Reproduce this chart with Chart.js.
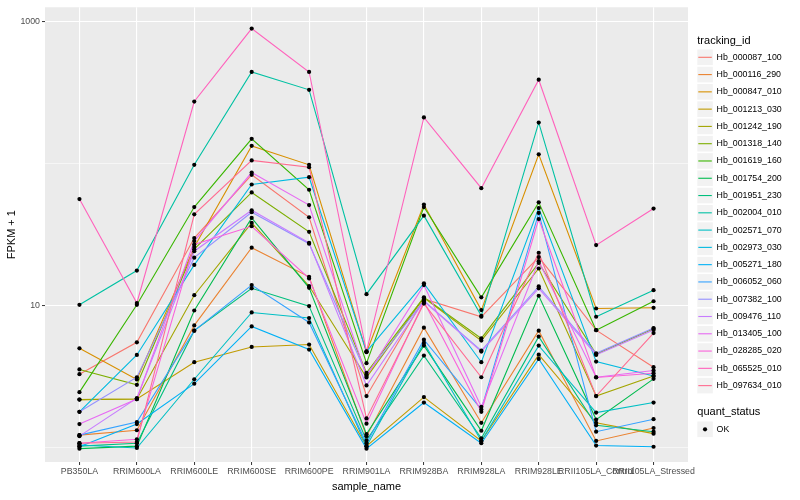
<!DOCTYPE html>
<html><head><meta charset="utf-8">
<script src="https://cdn.jsdelivr.net/npm/chart.js@4.4.0/dist/chart.umd.min.js"></script>
<style>html,body{margin:0;padding:0;background:#fff;}canvas{display:block;}</style>
</head><body>
<canvas id="c" width="800" height="500" style="width:800px;height:500px"></canvas>
<script>
const categories = ['PB350LA','RRIM600LA','RRIM600LE','RRIM600SE','RRIM600PE','RRIM901LA','RRIM928BA','RRIM928LA','RRIM928LE','RRII105LA_Control','RRII105LA_Stressed'];
const trackingIds = ['Hb_000087_100','Hb_000116_290','Hb_000847_010','Hb_001213_030','Hb_001242_190','Hb_001318_140','Hb_001619_160','Hb_001754_200','Hb_001951_230','Hb_002004_010','Hb_002571_070','Hb_002973_030','Hb_005271_180','Hb_006052_060','Hb_007382_100','Hb_009476_110','Hb_013405_100','Hb_028285_020','Hb_065525_010','Hb_097634_010'];
const seriesColors = ['#F8766D','#EA8331','#D89000','#C09B00','#A3A500','#7CAE00','#39B600','#00BB4E','#00BF7D','#00C1A3','#00BFC4','#00BAE0','#00B0F6','#35A2FF','#9590FF','#C77CFF','#E76BF3','#FA62DB','#FF62BC','#FF6C91'];

const hb_000087_100 = [3.28, 5.50, 29.8, 83.2, 41.8, 2.30, 11.1, 8.32, 21.9, 6.69, 3.67];
const hb_000116_290 = [1.22, 1.32, 7.23, 25.5, 15.9, 1.20, 6.97, 1.49, 6.64, 1.11, 1.37];
const hb_000847_010 = [4.99, 3.01, 25.8, 133, 97.8, 4.68, 51.3, 9.27, 116, 9.51, 9.62];
const hb_001213_030 = [2.17, 2.19, 3.98, 5.10, 5.30, 1.02, 2.26, 1.11, 4.50, 1.49, 1.25];
const hb_001242_190 = [2.17, 2.19, 11.8, 38.1, 13.7, 3.11, 11.3, 5.65, 18.2, 2.30, 3.18];
const hb_001318_140 = [3.54, 2.76, 24.9, 62.5, 33.0, 3.35, 11.4, 5.86, 19.9, 4.54, 6.86];
const hb_001619_160 = [2.45, 10.1, 49.3, 149, 65.3, 3.92, 49.3, 11.4, 53.2, 6.69, 10.7];
const hb_001754_200 = [0.98, 1.02, 9.21, 41.3, 13.3, 1.24, 5.21, 1.31, 11.7, 1.57, 3.04];
const hb_001951_230 = [1.02, 1.07, 6.64, 13.2, 9.89, 1.12, 4.43, 1.16, 6.03, 1.43, 1.29];
const hb_002004_010 = [10.1, 17.6, 97.8, 441, 330, 12.0, 42.9, 8.45, 194, 8.32, 12.8];
const hb_002571_070 = [1.04, 0.99, 3.02, 8.92, 8.15, 1.02, 5.44, 1.11, 5.21, 1.76, 2.07];
const hb_002973_030 = [1.78, 4.48, 19.3, 71.1, 80.0, 4.73, 14.3, 3.98, 48.5, 4.02, 3.18];
const hb_005271_180 = [1.01, 1.46, 2.81, 7.11, 4.89, 0.98, 2.07, 1.07, 4.20, 1.03, 1.01];
const hb_006052_060 = [1.22, 1.51, 6.64, 13.9, 7.59, 1.07, 5.74, 1.85, 44.8, 1.29, 1.58];
const hb_007382_100 = [1.78, 3.12, 21.7, 45.3, 27.2, 3.26, 10.8, 4.81, 13.6, 4.60, 6.93];
const hb_009476_110 = [1.20, 2.22, 24.1, 46.8, 27.6, 2.73, 10.7, 4.73, 13.2, 4.48, 6.71];
const hb_013405_100 = [1.46, 2.19, 28.4, 86.3, 50.9, 3.18, 13.9, 1.93, 20.5, 3.12, 3.48];
const hb_028285_020 = [1.07, 1.14, 26.9, 36.1, 15.5, 1.47, 10.6, 1.78, 40.6, 3.11, 3.33];
const hb_065525_010 = [56.1, 10.4, 273, 891, 441, 4.75, 211, 67.0, 389, 26.6, 48.1];
const hb_097634_010 = [1.07, 1.09, 43.8, 105, 94.0, 1.60, 10.3, 3.12, 23.5, 2.30, 6.39];

const seriesValues = [hb_000087_100, hb_000116_290, hb_000847_010, hb_001213_030, hb_001242_190, hb_001318_140, hb_001619_160, hb_001754_200, hb_001951_230, hb_002004_010, hb_002571_070, hb_002973_030, hb_005271_180, hb_006052_060, hb_007382_100, hb_009476_110, hb_013405_100, hb_028285_020, hb_065525_010, hb_097634_010];

const yTickValues = [1, 10, 100, 1000];
const yMajorTicks = [10, 1000];
const yTickLabels = {10: '10', 1000: '1000'};
const legendTitle = 'tracking_id';
const shapeTitle = 'quant_status';
const shapeLabel = 'OK';

const FONT = '"Liberation Sans", Arial, Helvetica, sans-serif';
Chart.defaults.font.family = FONT;

const toPoints = vals => vals.map((v, i) => ({x: i, y: v}));

const datasets = [];
seriesValues.forEach((vals, i) => {
  datasets.push({
    label: trackingIds[i], data: toPoints(vals),
    borderColor: seriesColors[i], borderWidth: 1.1, pointRadius: 0,
    fill: false, tension: 0, order: 1 + (seriesValues.length - i)
  });
});
seriesValues.forEach((vals, i) => {
  datasets.push({
    label: trackingIds[i] + '_pts', data: toPoints(vals), showLine: false,
    pointRadius: 2.1, pointBackgroundColor: '#000', pointBorderWidth: 0,
    pointHoverRadius: 2.1, order: 0
  });
});

const bgPlugin = {
  id: 'panelBg',
  beforeDraw(chart) {
    const {ctx, chartArea: a} = chart;
    ctx.save();
    ctx.fillStyle = '#fff';
    ctx.fillRect(0, 0, chart.width, chart.height);
    ctx.fillStyle = '#EBEBEB';
    ctx.fillRect(a.left, a.top, a.right - a.left, a.bottom - a.top);
    ctx.restore();
  }
};

const legendPlugin = {
  id: 'ggLegend',
  afterDraw(chart) {
    const ctx = chart.ctx;
    const x0 = chart.chartArea.right + 9.3;
    ctx.save();
    ctx.textAlign = 'left';
    ctx.textBaseline = 'middle';
    ctx.fillStyle = '#000';
    ctx.font = '11px ' + FONT;
    ctx.fillText(legendTitle, x0, 40.5);
    ctx.font = '8.8px ' + FONT;
    trackingIds.forEach((id, i) => {
      const cy = 57.3 + i * 17.28;
      ctx.fillStyle = '#F2F2F2';
      ctx.fillRect(x0, cy - 7.8, 15.5, 15.6);
      ctx.strokeStyle = seriesColors[i];
      ctx.lineWidth = 1.1;
      ctx.beginPath();
      ctx.moveTo(x0 + 1, cy);
      ctx.lineTo(x0 + 14.5, cy);
      ctx.stroke();
      ctx.fillStyle = '#000';
      ctx.fillText(id, x0 + 19.3, cy);
    });
    ctx.font = '11px ' + FONT;
    ctx.fillText(shapeTitle, x0, 412.3);
    const cy2 = 429.3;
    ctx.fillStyle = '#F2F2F2';
    ctx.fillRect(x0, cy2 - 7.8, 15.5, 15.6);
    ctx.fillStyle = '#000';
    ctx.beginPath();
    ctx.arc(x0 + 7.75, cy2, 2.1, 0, Math.PI * 2);
    ctx.fill();
    ctx.font = '8.8px ' + FONT;
    ctx.fillText(shapeLabel, x0 + 19.3, cy2);
    ctx.restore();
  }
};

new Chart(document.getElementById('c'), {
  type: 'line',
  data: {datasets},
  plugins: [bgPlugin, legendPlugin],
  options: {
    responsive: false,
    animation: false,
    devicePixelRatio: 1,
    layout: {padding: {top: 5, right: 112, left: 0, bottom: 0}},
    plugins: {legend: {display: false}, tooltip: {enabled: false}},
    scales: {
      x: {
        type: 'linear', min: -0.6, max: categories.length - 1 + 0.6, bounds: 'data',
        afterBuildTicks: s => { s.ticks = categories.map((_, i) => ({value: i})); },
        afterFit: s => { s.height = 38; },
        ticks: {
          autoSkip: false, maxRotation: 0, minRotation: 0, padding: 1.5,
          color: '#4D4D4D', font: {size: 8.8},
          callback: v => categories[v]
        },
        grid: {color: '#FFFFFF', lineWidth: 1.1, drawTicks: true, tickLength: 3, tickColor: '#333333', tickWidth: 1},
        border: {display: false},
        title: {display: true, text: 'sample_name', color: '#000', font: {size: 11}, padding: {top: 0, bottom: 6.4}}
      },
      y: {
        type: 'logarithmic', min: 0.789, max: 1259, bounds: 'data',
        afterBuildTicks: s => { s.ticks = yTickValues.map(v => ({value: v})); },
        afterFit: s => { s.width = 45; },
        ticks: {
          padding: 2, color: '#4D4D4D', font: {size: 8.8},
          callback: v => (yTickLabels[v] !== undefined ? yTickLabels[v] : '')
        },
        grid: {
          color: '#FFFFFF',
          lineWidth: c => (c.tick && yMajorTicks.includes(c.tick.value) ? 1.1 : 0.55),
          drawTicks: true, tickLength: 3, tickWidth: 1,
          tickColor: c => (c.tick && yMajorTicks.includes(c.tick.value) ? '#333333' : 'rgba(0,0,0,0)')
        },
        border: {display: false},
        title: {display: true, text: 'FPKM + 1', color: '#000', font: {size: 11}, padding: {top: 5.4, bottom: 0}}
      }
    }
  }
});
</script>
</body></html>
